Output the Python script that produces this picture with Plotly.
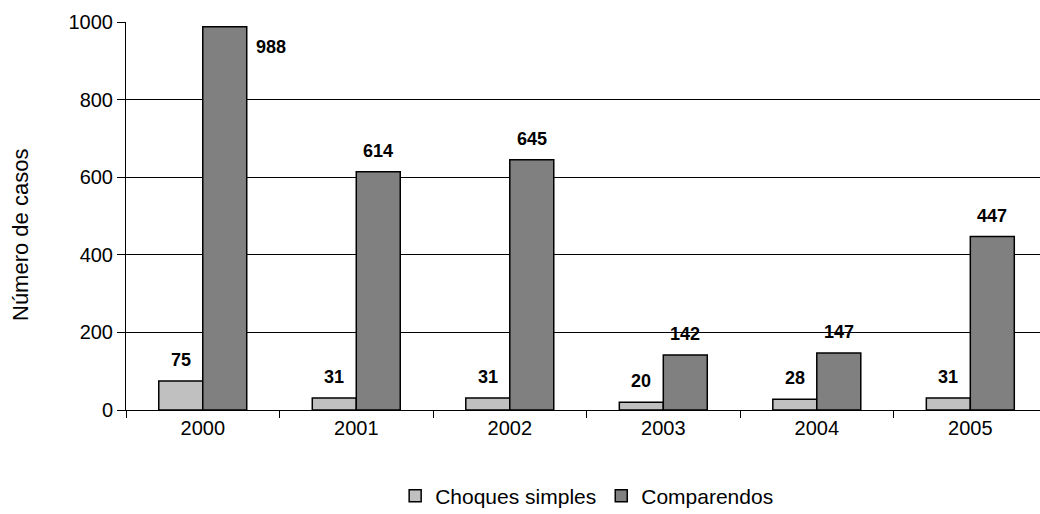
import plotly.graph_objects as go

years = ["2000", "2001", "2002", "2003", "2004", "2005"]
choques = [75, 31, 31, 20, 28, 31]
comparendos = [988, 614, 645, 142, 147, 447]

FONT = "Liberation Sans, Arial, sans-serif"

fig = go.Figure()
fig.add_trace(go.Bar(
    x=years, y=choques, name="Choques simples",
    marker=dict(color="#c0c0c0", line=dict(color="black", width=1.5)),
))
fig.add_trace(go.Bar(
    x=years, y=comparendos, name="Comparendos",
    marker=dict(color="#808080", line=dict(color="black", width=1.5)),
))

# value labels above each bar; the tallest one sits beside its bar
annotations = []
for i, v in enumerate(choques):
    annotations.append(dict(x=i, y=v, xref="x", yref="y", text=f"<b>{v}</b>",
                            showarrow=False, xshift=-22, yshift=21,
                            font=dict(family=FONT, size=18, color="black")))
for i, v in enumerate(comparendos):
    if v > 900:
        xs, ys = 68, -20
    else:
        xs, ys = 22, 21
    annotations.append(dict(x=i, y=v, xref="x", yref="y", text=f"<b>{v}</b>",
                            showarrow=False, xshift=xs, yshift=ys,
                            font=dict(family=FONT, size=18, color="black")))

# y-axis title
annotations.append(dict(x=20, y=235, xref="paper", yref="paper", text="Número de casos",
                        showarrow=False, textangle=-90, xanchor="center", yanchor="middle",
                        font=dict(family=FONT, size=22, color="black")))

fig.update_layout(
    width=1040, height=514,
    margin=dict(l=126, r=0, t=22, b=104, autoexpand=False),
    paper_bgcolor="white", plot_bgcolor="white",
    barmode="group", bargap=0.427, bargroupgap=0,
    font=dict(family=FONT, size=20, color="black"),
    showlegend=True,
    legend=dict(orientation="h", x=0.504, xanchor="center", y=-0.222, yanchor="middle",
                font=dict(family=FONT, size=21, color="black"),
                itemwidth=30, traceorder="normal"),
)

# convert pixel position of the y title into paper coordinates
plot_left, plot_w = 126, 1040 - 126
plot_top, plot_h = 22, 514 - 22 - 104
t = annotations[-1]
t["x"] = (t["x"] - plot_left) / plot_w
t["y"] = 1 - (t["y"] - plot_top) / plot_h
fig.update_layout(annotations=annotations)

fig.update_xaxes(
    type="category", range=[-0.5, 5.454],
    showline=True, linecolor="black", linewidth=1,
    ticks="outside", tickson="boundaries", ticklen=7, tickcolor="black",
    showgrid=False, tickfont=dict(family=FONT, size=20, color="black"),
)
fig.update_yaxes(
    range=[0, 1000], tickvals=[0, 200, 400, 600, 800, 1000],
    showline=True, linecolor="black", linewidth=1,
    ticks="outside", ticklen=8, tickcolor="black",
    showgrid=True, gridcolor="black", gridwidth=1,
    zeroline=False,
    tickfont=dict(family=FONT, size=20, color="black"),
)

fig.write_html("out.html")
